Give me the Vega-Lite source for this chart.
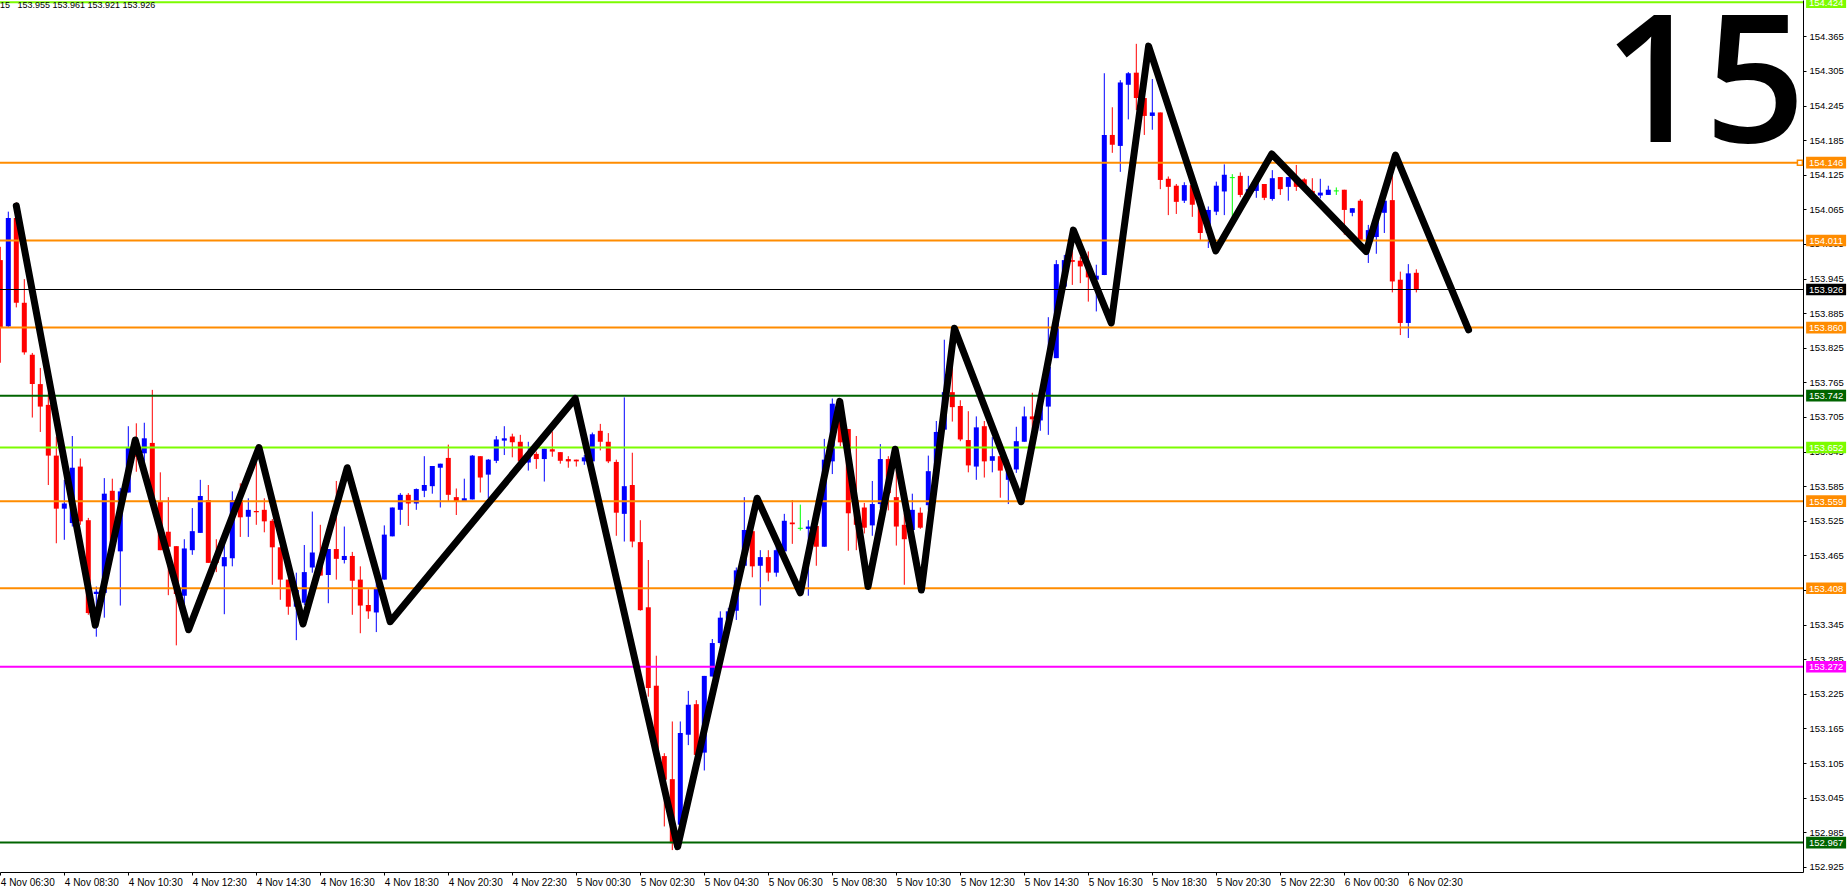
{
 "$schema": "https://vega.github.io/schema/vega-lite/v6.json",
 "width": 1803,
 "height": 872,
 "padding": {"left": 0, "top": 0, "right": 45, "bottom": 22},
 "autosize": {"type": "none"},
 "background": "white",
 "config": {"view": {"stroke": null}, "font": "Liberation Sans", "scale": {"continuousPadding": 0}},
 "datasets": {
  "candles": [
   {"t":"2024-11-04T06:30:00","o":153.977,"h":154.000,"l":153.799,"c":153.861},
   {"t":"2024-11-04T06:45:00","o":153.862,"h":154.061,"l":153.860,"c":154.050},
   {"t":"2024-11-04T07:00:00","o":154.050,"h":154.077,"l":153.895,"c":153.903},
   {"t":"2024-11-04T07:15:00","o":153.903,"h":153.944,"l":153.813,"c":153.817},
   {"t":"2024-11-04T07:30:00","o":153.813,"h":153.816,"l":153.704,"c":153.762},
   {"t":"2024-11-04T07:45:00","o":153.762,"h":153.790,"l":153.679,"c":153.723},
   {"t":"2024-11-04T08:00:00","o":153.726,"h":153.747,"l":153.587,"c":153.638},
   {"t":"2024-11-04T08:15:00","o":153.638,"h":153.671,"l":153.486,"c":153.546},
   {"t":"2024-11-04T08:30:00","o":153.546,"h":153.596,"l":153.492,"c":153.555},
   {"t":"2024-11-04T08:45:00","o":153.521,"h":153.672,"l":153.515,"c":153.617},
   {"t":"2024-11-04T09:00:00","o":153.619,"h":153.633,"l":153.518,"c":153.524},
   {"t":"2024-11-04T09:15:00","o":153.526,"h":153.530,"l":153.362,"c":153.365},
   {"t":"2024-11-04T09:30:00","o":153.398,"h":153.411,"l":153.324,"c":153.402},
   {"t":"2024-11-04T09:45:00","o":153.400,"h":153.599,"l":153.357,"c":153.572},
   {"t":"2024-11-04T10:00:00","o":153.577,"h":153.598,"l":153.471,"c":153.472},
   {"t":"2024-11-04T10:15:00","o":153.472,"h":153.582,"l":153.378,"c":153.576},
   {"t":"2024-11-04T10:30:00","o":153.574,"h":153.689,"l":153.574,"c":153.651},
   {"t":"2024-11-04T10:45:00","o":153.660,"h":153.694,"l":153.610,"c":153.636},
   {"t":"2024-11-04T11:00:00","o":153.642,"h":153.695,"l":153.613,"c":153.668},
   {"t":"2024-11-04T11:15:00","o":153.660,"h":153.752,"l":153.556,"c":153.558},
   {"t":"2024-11-04T11:30:00","o":153.558,"h":153.609,"l":153.474,"c":153.474},
   {"t":"2024-11-04T11:45:00","o":153.506,"h":153.566,"l":153.396,"c":153.480},
   {"t":"2024-11-04T12:00:00","o":153.481,"h":153.481,"l":153.309,"c":153.398},
   {"t":"2024-11-04T12:15:00","o":153.395,"h":153.493,"l":153.379,"c":153.477},
   {"t":"2024-11-04T12:30:00","o":153.474,"h":153.547,"l":153.466,"c":153.507},
   {"t":"2024-11-04T12:45:00","o":153.504,"h":153.596,"l":153.504,"c":153.568},
   {"t":"2024-11-04T13:00:00","o":153.561,"h":153.587,"l":153.452,"c":153.452},
   {"t":"2024-11-04T13:15:00","o":153.462,"h":153.493,"l":153.436,"c":153.452},
   {"t":"2024-11-04T13:30:00","o":153.446,"h":153.487,"l":153.363,"c":153.462},
   {"t":"2024-11-04T13:45:00","o":153.460,"h":153.576,"l":153.446,"c":153.561},
   {"t":"2024-11-04T14:00:00","o":153.561,"h":153.590,"l":153.497,"c":153.531},
   {"t":"2024-11-04T14:15:00","o":153.532,"h":153.564,"l":153.497,"c":153.544},
   {"t":"2024-11-04T14:30:00","o":153.542,"h":153.650,"l":153.518,"c":153.540},
   {"t":"2024-11-04T14:45:00","o":153.544,"h":153.564,"l":153.505,"c":153.524},
   {"t":"2024-11-04T15:00:00","o":153.525,"h":153.528,"l":153.414,"c":153.479},
   {"t":"2024-11-04T15:15:00","o":153.479,"h":153.479,"l":153.388,"c":153.423},
   {"t":"2024-11-04T15:30:00","o":153.423,"h":153.423,"l":153.362,"c":153.376},
   {"t":"2024-11-04T15:45:00","o":153.376,"h":153.435,"l":153.318,"c":153.405},
   {"t":"2024-11-04T16:00:00","o":153.383,"h":153.483,"l":153.379,"c":153.436},
   {"t":"2024-11-04T16:15:00","o":153.444,"h":153.541,"l":153.435,"c":153.470},
   {"t":"2024-11-04T16:30:00","o":153.457,"h":153.518,"l":153.430,"c":153.430},
   {"t":"2024-11-04T16:45:00","o":153.431,"h":153.476,"l":153.382,"c":153.476},
   {"t":"2024-11-04T17:00:00","o":153.476,"h":153.594,"l":153.423,"c":153.459},
   {"t":"2024-11-04T17:15:00","o":153.457,"h":153.515,"l":153.451,"c":153.464},
   {"t":"2024-11-04T17:30:00","o":153.464,"h":153.471,"l":153.362,"c":153.421},
   {"t":"2024-11-04T17:45:00","o":153.423,"h":153.446,"l":153.330,"c":153.378},
   {"t":"2024-11-04T18:00:00","o":153.379,"h":153.406,"l":153.355,"c":153.368},
   {"t":"2024-11-04T18:15:00","o":153.366,"h":153.423,"l":153.332,"c":153.408},
   {"t":"2024-11-04T18:30:00","o":153.423,"h":153.517,"l":153.423,"c":153.501},
   {"t":"2024-11-04T18:45:00","o":153.498,"h":153.548,"l":153.498,"c":153.548},
   {"t":"2024-11-04T19:00:00","o":153.544,"h":153.573,"l":153.518,"c":153.570},
   {"t":"2024-11-04T19:15:00","o":153.570,"h":153.573,"l":153.516,"c":153.555},
   {"t":"2024-11-04T19:30:00","o":153.555,"h":153.581,"l":153.544,"c":153.580},
   {"t":"2024-11-04T19:45:00","o":153.577,"h":153.637,"l":153.566,"c":153.587},
   {"t":"2024-11-04T20:00:00","o":153.585,"h":153.620,"l":153.572,"c":153.620},
   {"t":"2024-11-04T20:15:00","o":153.617,"h":153.624,"l":153.548,"c":153.624},
   {"t":"2024-11-04T20:30:00","o":153.634,"h":153.657,"l":153.559,"c":153.570},
   {"t":"2024-11-04T20:45:00","o":153.566,"h":153.581,"l":153.535,"c":153.559},
   {"t":"2024-11-04T21:00:00","o":153.559,"h":153.598,"l":153.559,"c":153.564},
   {"t":"2024-11-04T21:15:00","o":153.562,"h":153.639,"l":153.562,"c":153.638},
   {"t":"2024-11-04T21:30:00","o":153.637,"h":153.637,"l":153.574,"c":153.600},
   {"t":"2024-11-04T21:45:00","o":153.605,"h":153.632,"l":153.564,"c":153.631},
   {"t":"2024-11-04T22:00:00","o":153.629,"h":153.672,"l":153.625,"c":153.666},
   {"t":"2024-11-04T22:15:00","o":153.664,"h":153.689,"l":153.639,"c":153.668},
   {"t":"2024-11-04T22:30:00","o":153.671,"h":153.676,"l":153.635,"c":153.661},
   {"t":"2024-11-04T22:45:00","o":153.662,"h":153.674,"l":153.625,"c":153.628},
   {"t":"2024-11-04T23:00:00","o":153.626,"h":153.662,"l":153.612,"c":153.639},
   {"t":"2024-11-04T23:15:00","o":153.641,"h":153.645,"l":153.615,"c":153.632},
   {"t":"2024-11-04T23:30:00","o":153.632,"h":153.650,"l":153.593,"c":153.650},
   {"t":"2024-11-04T23:45:00","o":153.649,"h":153.680,"l":153.636,"c":153.645},
   {"t":"2024-11-05T00:00:00","o":153.644,"h":153.644,"l":153.624,"c":153.629},
   {"t":"2024-11-05T00:15:00","o":153.632,"h":153.637,"l":153.617,"c":153.628},
   {"t":"2024-11-05T00:30:00","o":153.631,"h":153.631,"l":153.619,"c":153.628},
   {"t":"2024-11-05T00:45:00","o":153.628,"h":153.639,"l":153.622,"c":153.635},
   {"t":"2024-11-05T01:00:00","o":153.628,"h":153.678,"l":153.610,"c":153.675},
   {"t":"2024-11-05T01:15:00","o":153.681,"h":153.693,"l":153.647,"c":153.662},
   {"t":"2024-11-05T01:30:00","o":153.662,"h":153.677,"l":153.625,"c":153.628},
   {"t":"2024-11-05T01:45:00","o":153.627,"h":153.631,"l":153.499,"c":153.539},
   {"t":"2024-11-05T02:00:00","o":153.537,"h":153.739,"l":153.489,"c":153.585},
   {"t":"2024-11-05T02:15:00","o":153.587,"h":153.643,"l":153.479,"c":153.489},
   {"t":"2024-11-05T02:30:00","o":153.488,"h":153.526,"l":153.369,"c":153.370},
   {"t":"2024-11-05T02:45:00","o":153.375,"h":153.457,"l":153.220,"c":153.235},
   {"t":"2024-11-05T03:00:00","o":153.239,"h":153.291,"l":153.110,"c":153.122},
   {"t":"2024-11-05T03:15:00","o":153.117,"h":153.122,"l":152.995,"c":153.076},
   {"t":"2024-11-05T03:30:00","o":153.077,"h":153.177,"l":152.954,"c":152.966},
   {"t":"2024-11-05T03:45:00","o":152.998,"h":153.177,"l":152.989,"c":153.157},
   {"t":"2024-11-05T04:00:00","o":153.154,"h":153.230,"l":153.136,"c":153.206},
   {"t":"2024-11-05T04:15:00","o":153.207,"h":153.214,"l":153.110,"c":153.119},
   {"t":"2024-11-05T04:30:00","o":153.123,"h":153.256,"l":153.092,"c":153.256},
   {"t":"2024-11-05T04:45:00","o":153.255,"h":153.320,"l":153.255,"c":153.313},
   {"t":"2024-11-05T05:00:00","o":153.313,"h":153.368,"l":153.310,"c":153.357},
   {"t":"2024-11-05T05:15:00","o":153.355,"h":153.374,"l":153.350,"c":153.368},
   {"t":"2024-11-05T05:30:00","o":153.369,"h":153.444,"l":153.353,"c":153.439},
   {"t":"2024-11-05T05:45:00","o":153.447,"h":153.566,"l":153.445,"c":153.509},
   {"t":"2024-11-05T06:00:00","o":153.507,"h":153.507,"l":153.427,"c":153.446},
   {"t":"2024-11-05T06:15:00","o":153.447,"h":153.474,"l":153.378,"c":153.462},
   {"t":"2024-11-05T06:30:00","o":153.462,"h":153.474,"l":153.420,"c":153.435},
   {"t":"2024-11-05T06:45:00","o":153.435,"h":153.488,"l":153.428,"c":153.474},
   {"t":"2024-11-05T07:00:00","o":153.472,"h":153.537,"l":153.469,"c":153.525},
   {"t":"2024-11-05T07:15:00","o":153.522,"h":153.561,"l":153.485,"c":153.519},
   {"t":"2024-11-05T07:30:00","o":153.512,"h":153.553,"l":153.508,"c":153.512},
   {"t":"2024-11-05T07:45:00","o":153.511,"h":153.526,"l":153.395,"c":153.515},
   {"t":"2024-11-05T08:00:00","o":153.516,"h":153.516,"l":153.447,"c":153.480},
   {"t":"2024-11-05T08:15:00","o":153.480,"h":153.667,"l":153.480,"c":153.631},
   {"t":"2024-11-05T08:30:00","o":153.628,"h":153.737,"l":153.606,"c":153.728},
   {"t":"2024-11-05T08:45:00","o":153.728,"h":153.734,"l":153.654,"c":153.661},
   {"t":"2024-11-05T09:00:00","o":153.684,"h":153.684,"l":153.473,"c":153.538},
   {"t":"2024-11-05T09:15:00","o":153.561,"h":153.672,"l":153.474,"c":153.518},
   {"t":"2024-11-05T09:30:00","o":153.548,"h":153.556,"l":153.503,"c":153.513},
   {"t":"2024-11-05T09:45:00","o":153.517,"h":153.594,"l":153.499,"c":153.554},
   {"t":"2024-11-05T10:00:00","o":153.554,"h":153.658,"l":153.547,"c":153.632},
   {"t":"2024-11-05T10:15:00","o":153.632,"h":153.637,"l":153.543,"c":153.573},
   {"t":"2024-11-05T10:30:00","o":153.566,"h":153.613,"l":153.482,"c":153.515},
   {"t":"2024-11-05T10:45:00","o":153.518,"h":153.538,"l":153.414,"c":153.493},
   {"t":"2024-11-05T11:00:00","o":153.509,"h":153.572,"l":153.509,"c":153.544},
   {"t":"2024-11-05T11:15:00","o":153.539,"h":153.548,"l":153.511,"c":153.513},
   {"t":"2024-11-05T11:30:00","o":153.552,"h":153.638,"l":153.544,"c":153.611},
   {"t":"2024-11-05T11:45:00","o":153.611,"h":153.698,"l":153.611,"c":153.679},
   {"t":"2024-11-05T12:00:00","o":153.683,"h":153.839,"l":153.683,"c":153.748},
   {"t":"2024-11-05T12:15:00","o":153.748,"h":153.856,"l":153.697,"c":153.722},
   {"t":"2024-11-05T12:30:00","o":153.724,"h":153.734,"l":153.663,"c":153.666},
   {"t":"2024-11-05T12:45:00","o":153.665,"h":153.715,"l":153.609,"c":153.621},
   {"t":"2024-11-05T13:00:00","o":153.619,"h":153.706,"l":153.596,"c":153.687},
   {"t":"2024-11-05T13:15:00","o":153.689,"h":153.698,"l":153.600,"c":153.628},
   {"t":"2024-11-05T13:30:00","o":153.629,"h":153.670,"l":153.609,"c":153.637},
   {"t":"2024-11-05T13:45:00","o":153.637,"h":153.637,"l":153.565,"c":153.612},
   {"t":"2024-11-05T14:00:00","o":153.596,"h":153.631,"l":153.554,"c":153.617},
   {"t":"2024-11-05T14:15:00","o":153.614,"h":153.688,"l":153.608,"c":153.663},
   {"t":"2024-11-05T14:30:00","o":153.662,"h":153.723,"l":153.662,"c":153.706},
   {"t":"2024-11-05T14:45:00","o":153.706,"h":153.747,"l":153.683,"c":153.701},
   {"t":"2024-11-05T15:00:00","o":153.699,"h":153.746,"l":153.681,"c":153.734},
   {"t":"2024-11-05T15:15:00","o":153.723,"h":153.878,"l":153.674,"c":153.792},
   {"t":"2024-11-05T15:30:00","o":153.807,"h":153.977,"l":153.807,"c":153.970},
   {"t":"2024-11-05T15:45:00","o":153.931,"h":153.986,"l":153.925,"c":153.977},
   {"t":"2024-11-05T16:00:00","o":153.977,"h":154.006,"l":153.934,"c":153.974},
   {"t":"2024-11-05T16:15:00","o":153.976,"h":153.983,"l":153.937,"c":153.966},
   {"t":"2024-11-05T16:30:00","o":153.966,"h":153.992,"l":153.905,"c":153.947},
   {"t":"2024-11-05T16:45:00","o":153.943,"h":153.969,"l":153.888,"c":153.950},
   {"t":"2024-11-05T17:00:00","o":153.951,"h":154.301,"l":153.951,"c":154.194},
   {"t":"2024-11-05T17:15:00","o":154.194,"h":154.242,"l":154.163,"c":154.177},
   {"t":"2024-11-05T17:30:00","o":154.175,"h":154.289,"l":154.130,"c":154.285},
   {"t":"2024-11-05T17:45:00","o":154.281,"h":154.303,"l":154.221,"c":154.301},
   {"t":"2024-11-05T18:00:00","o":154.302,"h":154.352,"l":154.237,"c":154.258},
   {"t":"2024-11-05T18:15:00","o":154.258,"h":154.258,"l":154.194,"c":154.227},
   {"t":"2024-11-05T18:30:00","o":154.227,"h":154.291,"l":154.203,"c":154.233},
   {"t":"2024-11-05T18:45:00","o":154.233,"h":154.233,"l":154.100,"c":154.116},
   {"t":"2024-11-05T19:00:00","o":154.118,"h":154.122,"l":154.055,"c":154.104},
   {"t":"2024-11-05T19:15:00","o":154.106,"h":154.109,"l":154.057,"c":154.078},
   {"t":"2024-11-05T19:30:00","o":154.080,"h":154.112,"l":154.076,"c":154.107},
   {"t":"2024-11-05T19:45:00","o":154.107,"h":154.107,"l":154.052,"c":154.073},
   {"t":"2024-11-05T20:00:00","o":154.073,"h":154.073,"l":154.012,"c":154.024},
   {"t":"2024-11-05T20:15:00","o":154.024,"h":154.070,"l":153.998,"c":154.064},
   {"t":"2024-11-05T20:30:00","o":154.061,"h":154.113,"l":154.055,"c":154.106},
   {"t":"2024-11-05T20:45:00","o":154.096,"h":154.143,"l":154.055,"c":154.125},
   {"t":"2024-11-05T21:00:00","o":154.120,"h":154.126,"l":154.052,"c":154.120},
   {"t":"2024-11-05T21:15:00","o":154.123,"h":154.129,"l":154.086,"c":154.090},
   {"t":"2024-11-05T21:30:00","o":154.090,"h":154.123,"l":154.087,"c":154.100},
   {"t":"2024-11-05T21:45:00","o":154.097,"h":154.116,"l":154.085,"c":154.116},
   {"t":"2024-11-05T22:00:00","o":154.109,"h":154.109,"l":154.081,"c":154.085},
   {"t":"2024-11-05T22:15:00","o":154.083,"h":154.133,"l":154.080,"c":154.119},
   {"t":"2024-11-05T22:30:00","o":154.121,"h":154.121,"l":154.090,"c":154.100},
   {"t":"2024-11-05T22:45:00","o":154.104,"h":154.121,"l":154.080,"c":154.121},
   {"t":"2024-11-05T23:00:00","o":154.117,"h":154.142,"l":154.097,"c":154.104},
   {"t":"2024-11-05T23:15:00","o":154.117,"h":154.119,"l":154.102,"c":154.107},
   {"t":"2024-11-05T23:30:00","o":154.097,"h":154.119,"l":154.093,"c":154.093},
   {"t":"2024-11-05T23:45:00","o":154.089,"h":154.118,"l":154.084,"c":154.094},
   {"t":"2024-11-06T00:00:00","o":154.090,"h":154.106,"l":154.090,"c":154.099},
   {"t":"2024-11-06T00:15:00","o":154.097,"h":154.103,"l":154.090,"c":154.097},
   {"t":"2024-11-06T00:30:00","o":154.099,"h":154.099,"l":154.021,"c":154.064},
   {"t":"2024-11-06T00:45:00","o":154.059,"h":154.067,"l":154.053,"c":154.067},
   {"t":"2024-11-06T01:00:00","o":154.080,"h":154.083,"l":154.012,"c":154.012},
   {"t":"2024-11-06T01:15:00","o":154.012,"h":154.038,"l":153.972,"c":154.029},
   {"t":"2024-11-06T01:30:00","o":154.017,"h":154.067,"l":153.988,"c":154.055},
   {"t":"2024-11-06T01:45:00","o":154.059,"h":154.088,"l":154.024,"c":154.080},
   {"t":"2024-11-06T02:00:00","o":154.081,"h":154.158,"l":153.921,"c":153.940},
   {"t":"2024-11-06T02:15:00","o":153.943,"h":153.957,"l":153.847,"c":153.868},
   {"t":"2024-11-06T02:30:00","o":153.868,"h":153.970,"l":153.842,"c":153.954},
   {"t":"2024-11-06T02:45:00","o":153.955,"h":153.961,"l":153.921,"c":153.926}
  ],
  "zigzag": [
   {"t":"2024-11-04T07:00:00","p":154.071},
   {"t":"2024-11-04T09:28:00","p":153.344},
   {"t":"2024-11-04T10:43:00","p":153.665},
   {"t":"2024-11-04T12:23:00","p":153.336},
   {"t":"2024-11-04T14:35:00","p":153.652},
   {"t":"2024-11-04T15:57:30","p":153.346},
   {"t":"2024-11-04T17:20:30","p":153.617},
   {"t":"2024-11-04T18:41:00","p":153.350},
   {"t":"2024-11-05T00:28:00","p":153.737},
   {"t":"2024-11-05T03:40:00","p":152.960},
   {"t":"2024-11-05T06:09:00","p":153.564},
   {"t":"2024-11-05T07:30:00","p":153.400},
   {"t":"2024-11-05T08:44:00","p":153.732},
   {"t":"2024-11-05T09:37:00","p":153.411},
   {"t":"2024-11-05T10:28:00","p":153.649},
   {"t":"2024-11-05T11:17:00","p":153.405},
   {"t":"2024-11-05T12:19:00","p":153.859},
   {"t":"2024-11-05T14:24:00","p":153.558},
   {"t":"2024-11-05T16:02:00","p":154.029},
   {"t":"2024-11-05T17:13:00","p":153.868},
   {"t":"2024-11-05T18:23:00","p":154.348},
   {"t":"2024-11-05T20:29:00","p":153.993},
   {"t":"2024-11-05T22:14:00","p":154.161},
   {"t":"2024-11-06T01:11:00","p":153.992},
   {"t":"2024-11-06T02:06:00","p":154.159},
   {"t":"2024-11-06T04:23:00","p":153.856}
  ],
  "levels": [
   {"price":154.424,"kind":"lime"},
   {"price":154.146,"kind":"orange"},
   {"price":154.011,"kind":"orange"},
   {"price":153.926,"kind":"price"},
   {"price":153.860,"kind":"orange"},
   {"price":153.742,"kind":"darkgreen"},
   {"price":153.652,"kind":"lime"},
   {"price":153.559,"kind":"orange"},
   {"price":153.408,"kind":"orange"},
   {"price":153.272,"kind":"magenta"},
   {"price":152.967,"kind":"darkgreen"}
  ]
 },
 "layer": [
  {
   "data": {"name": "candles"},
   "mark": {"type": "rule", "strokeWidth": 1, "clip": true},
   "encoding": {
    "x": {"field": "t", "type": "temporal", "title": null,
     "scale": {"padding": 0, "domain": [{"year":2024,"month":11,"date":4,"hours":6,"minutes":29,"seconds":26},{"year":2024,"month":11,"date":6,"hours":14,"minutes":50,"seconds":2}]},
     "axis": {"values": [
       {"year":2024,"month":11,"date":4,"hours":6,"minutes":30},
       {"year":2024,"month":11,"date":4,"hours":8,"minutes":30},
       {"year":2024,"month":11,"date":4,"hours":10,"minutes":30},
       {"year":2024,"month":11,"date":4,"hours":12,"minutes":30},
       {"year":2024,"month":11,"date":4,"hours":14,"minutes":30},
       {"year":2024,"month":11,"date":4,"hours":16,"minutes":30},
       {"year":2024,"month":11,"date":4,"hours":18,"minutes":30},
       {"year":2024,"month":11,"date":4,"hours":20,"minutes":30},
       {"year":2024,"month":11,"date":4,"hours":22,"minutes":30},
       {"year":2024,"month":11,"date":5,"hours":0,"minutes":30},
       {"year":2024,"month":11,"date":5,"hours":2,"minutes":30},
       {"year":2024,"month":11,"date":5,"hours":4,"minutes":30},
       {"year":2024,"month":11,"date":5,"hours":6,"minutes":30},
       {"year":2024,"month":11,"date":5,"hours":8,"minutes":30},
       {"year":2024,"month":11,"date":5,"hours":10,"minutes":30},
       {"year":2024,"month":11,"date":5,"hours":12,"minutes":30},
       {"year":2024,"month":11,"date":5,"hours":14,"minutes":30},
       {"year":2024,"month":11,"date":5,"hours":16,"minutes":30},
       {"year":2024,"month":11,"date":5,"hours":18,"minutes":30},
       {"year":2024,"month":11,"date":5,"hours":20,"minutes":30},
       {"year":2024,"month":11,"date":5,"hours":22,"minutes":30},
       {"year":2024,"month":11,"date":6,"hours":0,"minutes":30},
       {"year":2024,"month":11,"date":6,"hours":2,"minutes":30}
      ],
      "tickCount": 40,
      "format": "%-d %b %H:%M", "labelAlign": "left", "labelBaseline": "top", "labelFlush": false, "labelOverlap": false,
      "tickSize": 3, "labelPadding": 2, "labelFontSize": 10, "labelFont": "Liberation Sans", "labelColor": "#000000",
      "domainColor": "#000000", "tickColor": "#000000", "grid": false, "title": null}},
    "y": {"field": "l", "type": "quantitative", "title": null,
     "scale": {"domain": [152.916, 154.428], "nice": false, "zero": false, "padding": 0},
     "axis": {"orient": "right",
      "values": [152.925,152.985,153.045,153.105,153.165,153.225,153.285,153.345,153.405,153.465,153.525,153.585,153.645,153.705,153.765,153.825,153.885,153.945,154.005,154.065,154.125,154.185,154.245,154.305,154.365],
      "tickCount": 40,
      "format": ".3f", "tickSize": 3, "labelPadding": 3, "labelFontSize": 9.5, "labelFont": "Liberation Sans", "labelColor": "#000000",
      "domainColor": "#000000", "tickColor": "#000000", "grid": false, "title": null, "labelFlush": false, "labelOverlap": false}},
    "y2": {"field": "h"},
    "color": {"condition": [{"test": "datum.c > datum.o", "value": "#0000ff"}, {"test": "datum.c < datum.o", "value": "#ff0000"}], "value": "#00ff00"}
   }
  },
  {
   "data": {"name": "candles"},
   "mark": {"type": "bar", "size": 5, "clip": true},
   "encoding": {
    "x": {"field": "t", "type": "temporal", "title": null},
    "y": {"field": "o", "type": "quantitative", "title": null},
    "y2": {"field": "c"},
    "color": {"condition": [{"test": "datum.c > datum.o", "value": "#0000ff"}, {"test": "datum.c < datum.o", "value": "#ff0000"}], "value": "#00ff00"}
   }
  },
  {
   "data": {"name": "candles"},
   "transform": [{"filter": "datum.o == datum.c"}],
   "mark": {"type": "tick", "orient": "horizontal", "size": 5, "thickness": 1, "color": "#00ff00", "opacity": 1, "clip": true},
   "encoding": {
    "x": {"field": "t", "type": "temporal", "title": null},
    "y": {"field": "o", "type": "quantitative", "title": null}
   }
  },
  {
   "data": {"name": "levels"},
   "mark": {"type": "rule"},
   "encoding": {
    "y": {"field": "price", "type": "quantitative", "title": null},
    "color": {"field": "kind", "type": "nominal", "legend": null,
     "scale": {"domain": ["lime","orange","darkgreen","magenta","price"], "range": ["#7cfc00","#ff8c00","#006400","#ff00ff","#000000"]}},
    "strokeWidth": {"condition": {"test": "datum.kind == 'price'", "value": 1}, "value": 2}
   }
  },
  {
   "data": {"name": "zigzag"},
   "mark": {"type": "line", "color": "#000000", "strokeWidth": 7, "strokeCap": "round", "strokeJoin": "round"},
   "encoding": {
    "x": {"field": "t", "type": "temporal", "title": null},
    "y": {"field": "p", "type": "quantitative", "title": null}
   }
  },
  {
   "data": {"name": "levels"},
   "mark": {"type": "point", "shape": "M-1,-0.29L1,-0.29L1,0.29L-1,0.29Z", "filled": true, "size": 1600, "opacity": 1, "strokeWidth": 0},
   "encoding": {
    "x": {"datum": {"year":2024,"month":11,"date":6,"hours":15,"minutes":33,"seconds":22}, "type": "temporal", "title": null},
    "y": {"field": "price", "type": "quantitative", "title": null},
    "color": {"field": "kind", "type": "nominal", "legend": null}
   }
  },
  {
   "data": {"name": "levels"},
   "mark": {"type": "text", "fontSize": 9.5, "font": "Liberation Sans", "color": "#ffffff", "align": "center", "baseline": "middle", "dy": 0.5},
   "encoding": {
    "x": {"datum": {"year":2024,"month":11,"date":6,"hours":15,"minutes":33,"seconds":22}, "type": "temporal", "title": null},
    "y": {"field": "price", "type": "quantitative", "title": null},
    "text": {"field": "price", "type": "quantitative", "format": ".3f"}
   }
  },
  {
   "data": {"values": [{"price": 154.146}]},
   "mark": {"type": "point", "shape": "square", "size": 25, "filled": false, "stroke": "#ff8c00", "fill": "#ffffff", "fillOpacity": 1, "strokeWidth": 1.5, "opacity": 1},
   "encoding": {
    "x": {"datum": {"year":2024,"month":11,"date":6,"hours":14,"minutes":44,"seconds":15}, "type": "temporal", "title": null},
    "y": {"field": "price", "type": "quantitative", "title": null}
   }
  },
  {
   "data": {"values": [{"label": "15"}]},
   "mark": {"type": "text", "font": "Open Sans", "fontSize": 177, "fontWeight": 600, "color": "#000000", "align": "right", "baseline": "alphabetic"},
   "encoding": {
    "x": {"datum": {"year":2024,"month":11,"date":6,"hours":14,"minutes":54,"seconds":56}, "type": "temporal", "title": null},
    "y": {"datum": 154.182, "type": "quantitative", "title": null},
    "text": {"field": "label"}
   }
  },
  {
   "data": {"values": [{"label": "15\u00a0\u00a0\u00a0153.955 153.961 153.921 153.926"}]},
   "mark": {"type": "text", "font": "Liberation Sans", "fontSize": 9, "color": "#000000", "align": "left", "baseline": "middle"},
   "encoding": {
    "x": {"datum": {"year":2024,"month":11,"date":4,"hours":6,"minutes":29,"seconds":26}, "type": "temporal", "title": null},
    "y": {"datum": 154.420, "type": "quantitative", "title": null},
    "text": {"field": "label"}
   }
  }
 ]
}
